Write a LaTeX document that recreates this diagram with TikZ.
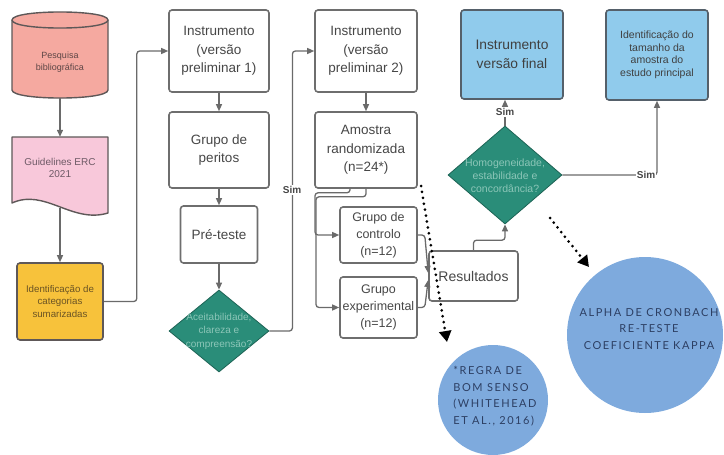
\documentclass[tikz,border=0pt]{standalone}
\usepackage{fontspec}
\setmainfont{Liberation Sans}
\newfontfamily\circfont[LetterSpace=14]{Lato}
\usetikzlibrary{shapes.geometric,arrows.meta,calc}

\definecolor{linegray}{HTML}{6A6A6A}
\definecolor{boxgray}{HTML}{6E6E6E}
\definecolor{shapeedge}{HTML}{5E5858}
\definecolor{txtgray}{HTML}{474747}
\definecolor{salmon}{HTML}{F5A9A0}
\definecolor{salmontxt}{HTML}{5E4646}
\definecolor{pinkdoc}{HTML}{F8C8DA}
\definecolor{pinktxt}{HTML}{6E5A66}
\definecolor{amber}{HTML}{F7C23B}
\definecolor{ambertxt}{HTML}{6B5424}
\definecolor{tealfill}{HTML}{2A8D79}
\definecolor{tealtxt}{HTML}{8CC6B8}
\definecolor{skyblue}{HTML}{90CBEC}
\definecolor{bluedge}{HTML}{55606A}
\definecolor{bubble}{HTML}{7EAADD}
\definecolor{navy}{HTML}{2D3F63}

\tikzset{
  box/.style={draw=boxgray, line width=1.6pt, rounded corners=3pt, fill=white,
    align=center, text=txtgray, inner sep=0pt,
    font=\fontsize{13.5}{18.5}\selectfont},
  bluebox/.style={box, fill=skyblue, draw=bluedge, text=black!75},
  decision/.style={diamond, draw=tealfill!70!black, line width=0.8pt, fill=tealfill, inner sep=0pt},
  dectext/.style={align=center, text=tealtxt},
  conn/.style={draw=linegray, line width=1.3pt, rounded corners=3pt,
    -{Triangle[length=7pt,width=6pt]}},
  dotarrow/.style={draw=black, line width=3pt, dash pattern=on 0pt off 6pt, line cap=round,
    -{Triangle[length=11pt,width=12pt]}},
  simlabel/.style={fill=white, inner sep=1pt, text=txtgray,
    font=\fontsize{10}{12}\selectfont\bfseries},
  blob/.style={circle, fill=bubble, inner sep=0pt},
  blobtext/.style={text=navy, font=\fontsize{11}{16.5}\selectfont\circfont},
}

\begin{document}
\begin{tikzpicture}[x=1pt,y=-1pt]
\useasboundingbox (0,0) rectangle (724,455);

% source cylinder
\filldraw[fill=salmon, draw=shapeedge, line width=1.4pt]
  (12,20) -- (12,90) .. controls (12,100.7) and (108,100.7) .. (108,90)
  -- (108,20) .. controls (108,9.3) and (12,9.3) .. (12,20) -- cycle;
\draw[shapeedge, line width=1.4pt] (12,20) .. controls (12,30.7) and (108,30.7) .. (108,20);
\node[minimum width=96pt, minimum height=86pt, inner sep=0pt] (pesq) at (60,55) {};
\node[align=center, text=salmontxt, font=\fontsize{9}{11.5}\selectfont] at (60,62) {Pesquisa\\bibliográfica};

% document shape with wavy bottom
\filldraw[fill=pinkdoc, draw=shapeedge, line width=1.4pt, line join=round]
  (12,137) -- (108,137) -- (108,213) .. controls (72,224) and (45,188) .. (12,203) -- cycle;
\node[minimum width=96pt, minimum height=71pt, inner sep=0pt] (guid) at (60,172.5) {};
\node[align=center, text=pinktxt, font=\fontsize{10}{11.5}\selectfont] at (60,168) {Guidelines ERC\\2021};

% categories
\node[box, fill=amber, draw=shapeedge, minimum width=86pt, minimum height=77pt,
  text=ambertxt, font=\fontsize{9.7}{12.5}\selectfont] (ident) at (60,301.5)
  {Identificação de\\categorias\\sumarizadas};

% first column
\node[box, minimum width=100pt, minimum height=82pt] (inst1) at (219,51) {Instrumento\\(versão\\preliminar 1)};
\node[box, minimum width=100pt, minimum height=76pt] (peritos) at (219,150) {Grupo de\\peritos};
\node[box, minimum width=77pt, minimum height=57pt] (preteste) at (219,234.5) {Pré-teste};
\node[decision, minimum width=100pt, minimum height=82pt] (acc) at (219,331) {};
\node[dectext, font=\fontsize{10}{13.5}\selectfont] at (acc) {Aceitabilidade,\\clareza e\\compreensão?};

% second column
\node[box, minimum width=102pt, minimum height=82pt] (inst2) at (366,51) {Instrumento\\(versão\\preliminar 2)};
\node[box, minimum width=102pt, minimum height=76pt] (amostra) at (366,150) {Amostra\\randomizada\\(n=24*)};
\node[box, minimum width=77pt, minimum height=56pt, font=\fontsize{12.5}{17}\selectfont] (controlo) at (378.5,235) {Grupo de\\controlo\\(n=12)};
\node[box, minimum width=77pt, minimum height=61pt, font=\fontsize{12.5}{17}\selectfont] (exper) at (378.5,307.5) {Grupo\\experimental\\(n=12)};
\node[box, minimum width=89pt, minimum height=50pt, font=\fontsize{14}{18}\selectfont] (result) at (473.5,276) {Resultados};

% third column
\node[decision, minimum width=114pt, minimum height=98pt] (homo) at (505,175) {};
\node[dectext, font=\fontsize{10.5}{13}\selectfont] at (505,176) {Homogeneidade,\\estabilidade e\\concordância?};
\node[bluebox, minimum width=102pt, minimum height=89pt, font=\fontsize{13.8}{19}\selectfont] (final) at (512,54.5) {Instrumento\\versão final};
\node[bluebox, minimum width=102pt, minimum height=90pt, font=\fontsize{10.5}{12.5}\selectfont] (tam) at (657,55) {Identificação do\\tamanho da\\amostra do\\estudo principal};

% connectors
\draw[conn] (pesq.south) -- (guid.north);
\draw[conn] (guid.south) -- (ident.north);
\draw[conn] (ident.east) -- ++(33,0) |- (inst1.west);
\draw[conn] (inst1.south) -- (peritos.north);
\draw[conn] (peritos.south) -- (preteste.north);
\draw[conn] (preteste.south) -- (acc.north);
\draw[conn] (acc.east) -- ++(23,0) |- (inst2.west);
\node[simlabel] at (292,190) {Sim};
\draw[conn] (inst2.south) -- (amostra.north);
\draw[conn] ([xshift=-16pt]amostra.south) -- ++(0,4) -- ++(-35,0) |- (controlo.west);
\draw[conn] (amostra.south) -- ++(0,8) -- ++(-50,0) |- (exper.west);
\draw[conn] (controlo.east) -- ++(7,0) -- ([yshift=3pt]result.west);
\draw[conn] (exper.east) -- ++(7,0) -- ([yshift=-4pt]result.west);
\draw[conn] (result.north) -- ++(0,-10) -| (homo.south);
\draw[conn] (homo.north) -- (homo.north |- final.south);
\node[simlabel] at (505,112) {Sim};
\draw[conn] (homo.east) -| (tam.south);
\node[simlabel] at (646,175) {Sim};

% notes
\node[blob, minimum size=110pt] (note1) at (493,400) {};
\node[blobtext, align=left] at (495,396) {*REGRA DE\\BOM SENSO\\(WHITEHEAD\\ET AL., 2016)};
\node[blob, minimum size=156pt] (note2) at (645,335) {};
\node[blobtext, align=center] at (649,329) {ALPHA DE CRONBACH\\RE-TESTE\\COEFICIENTE KAPPA};

\coordinate (d1s) at (421,186);
\coordinate (d1e) at (447,342);
\coordinate (d2s) at (550,218);
\coordinate (d2e) at (589,267);
\draw[dotarrow] (d1s) -- (d1e);
\draw[dotarrow] (d2s) -- (d2e);
\end{tikzpicture}
\end{document}
